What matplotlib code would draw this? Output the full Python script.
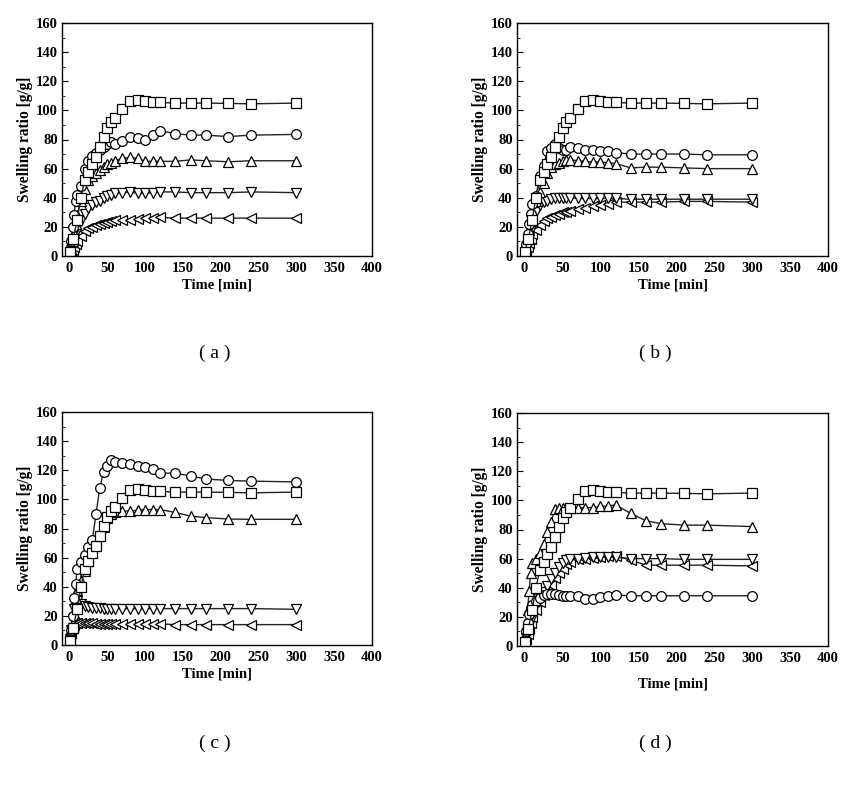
import matplotlib
matplotlib.use("Agg")
import matplotlib.pyplot as plt
from matplotlib.ticker import MultipleLocator

plt.rcParams['font.family'] = ['Liberation Serif', 'DejaVu Serif']

# time points [min]
t = [0, 2, 4, 6, 8, 10, 15, 20, 25, 30, 35, 40, 45, 50, 55, 60,
     70, 80, 90, 100, 110, 120, 140, 160, 180, 210, 240, 300]
t_sq = [0, 5, 10, 15, 20, 25, 30, 35, 40, 45, 50, 55, 60,
        70, 80, 90, 100, 110, 120, 140, 160, 180, 210, 240, 300]

# reference series (squares), same in all panels
square = [3, 12, 25, 40, 52, 58, 63, 68, 75, 82, 88, 92, 95,
          101, 106.5, 107, 106.5, 105.5, 105.5, 105, 105, 105, 104.8, 104.5, 105]

# panel (a)
a_circle = [3, 10, 20, 28, 38, 42, 48, 60, 65, 69, 71, 73, 75, 77, 78, 77,
            79, 82, 81, 80, 83, 86, 84, 83, 83, 82, 83, 83.5]
a_up = [2, 5, 10, 16, 22, 28, 38, 46, 52, 55, 57, 59, 61, 63, 64, 65.5,
        67, 67.7, 67, 65, 65, 65, 65, 66, 65.4, 64.7, 65.4, 65.4]
a_down = [1, 4, 8, 12, 16, 20, 24, 29, 33, 35, 37, 38, 40, 41, 42, 43,
          43.5, 44, 43, 43, 43.5, 44, 44, 43.5, 43.5, 43.5, 44, 43.5]
a_left = [1, 2, 4, 6, 8, 10, 14, 17, 19, 20, 21, 22, 23, 23.5, 24, 24.5,
          25, 25, 25.5, 26, 26, 26.5, 26, 26, 26, 26, 26, 26]

# panel (b)
b_circle = [3, 8, 15, 22, 29, 36, 41, 55, 62, 72, 74, 77, 74, 73, 73, 75,
            74, 73, 72.5, 72, 72, 71, 70, 70, 70, 70, 69.5, 69.5]
b_up = [2, 6, 12, 18, 24, 30, 38, 44, 50, 57, 61, 63, 64, 65, 66, 66,
        65.5, 65, 64.5, 64.5, 64, 63.5, 60.5, 61, 61, 60.5, 60, 60]
b_down = [1, 4, 8, 13, 18, 22, 30, 35, 37, 38, 39, 39.5, 40, 40, 40, 40,
          39.5, 39.5, 39.5, 39.5, 39.5, 39.5, 39, 39, 39, 39, 39, 39]
b_left = [1, 3, 6, 9, 12, 15, 18, 21, 24, 26, 27, 28, 29, 30, 30.5, 31,
          32, 33, 34, 35, 36, 37, 37, 37, 37, 37.5, 37.5, 37]

# panel (c)
c_circle = [4, 10, 20, 32, 42, 52, 57, 62, 67, 72, 90, 108, 119, 123, 127, 126,
            125, 124, 123, 122, 121, 118, 118, 116, 114, 113, 112.5, 112]
c_up = [3, 8, 15, 22, 32, 38, 44, 51, 58, 64, 70, 76, 81, 87, 90, 91,
        92, 92, 92.5, 93, 93, 93, 91, 88.5, 87.5, 86.5, 86.3, 86.3]
c_down = [4, 10, 18, 25, 29, 30, 28, 27, 26, 25.5, 25.5, 25.5, 25, 25, 25, 25,
          25, 25, 25, 25, 25, 25, 25, 25, 25, 25, 25, 24.5]
c_left = [3, 8, 12, 14, 15, 15, 15, 15, 15, 15, 14.5, 14.5, 14.5, 14.5, 14.5, 14.5,
          14.5, 14.5, 14.5, 14.5, 14.5, 14.5, 14, 14, 14, 14, 14, 14]

# panel (d)
d_circle = [4, 10, 16, 22, 26, 28, 31, 33, 35, 35.5, 36, 35.5, 35, 34.5, 34.5, 34,
            34.5, 32, 32.5, 33.5, 34, 35, 34.5, 34.5, 34.5, 34.5, 34.5, 34.5]
d_up = [5, 12, 25, 38, 50, 57, 60, 64, 70, 78, 85, 94, 95, 95, 95, 95,
        95, 95, 95, 96, 96, 97, 91, 86, 84, 83, 83, 82]
d_down = [3, 6, 10, 14, 18, 22, 28, 33, 37, 41, 46, 50, 54, 57, 59, 60,
          60, 60.5, 61, 61, 61, 61, 60, 60, 60, 59.5, 59.5, 59.5]
d_left = [2, 5, 8, 12, 16, 20, 25, 30, 35, 38, 42, 47, 50, 53, 56, 58,
          60, 60, 60.5, 61, 61.5, 62, 59, 55.5, 55.5, 55.5, 55.5, 55]

panels = [
    ("( a )", a_circle, a_up, a_down, a_left),
    ("( b )", b_circle, b_up, b_down, b_left),
    ("( c )", c_circle, c_up, c_down, c_left),
    ("( d )", d_circle, d_up, d_down, d_left),
]

W, H = 849, 787
fig = plt.figure(figsize=(W / 100, H / 100), dpi=100)

# axes boxes in pixels: left, top, right, bottom
boxes = [(62, 23, 372, 256), (517, 23, 828, 256),
         (62, 412, 372, 645), (517, 413, 828, 646)]
label_pos = [(215, 353), (655, 353), (215, 743), (655, 743)]
xlab_pad = [3, 3, 3, 9]

mk = dict(mfc='white', mec='black', mew=0.9, ms=7, lw=1.0, color='#222222')

for (lab, circ, up, down, left), (l, tp, r, b), (lx, ly), xp in zip(panels, boxes, label_pos, xlab_pad):
    ax = fig.add_axes([l / W, 1 - b / H, (r - l) / W, (b - tp) / H])
    ax.plot(t, left, marker='<', **mk)
    ax.plot(t, down, marker='v', **mk)
    ax.plot(t, up, marker='^', **mk)
    ax.plot(t, circ, marker='o', **mk)
    ax.plot(t_sq, square, marker='s', **mk)

    ax.set_xlim(-10, 400)
    ax.set_ylim(0, 160)
    ax.set_xticks(range(0, 401, 50))
    ax.yaxis.set_major_locator(MultipleLocator(20))
    ax.yaxis.set_minor_locator(MultipleLocator(10))
    ax.tick_params(axis='y', which='both', direction='in', labelsize=10.5, pad=3)
    ax.tick_params(axis='y', which='major', length=4)
    ax.tick_params(axis='y', which='minor', length=2)
    ax.tick_params(axis='x', length=0, labelsize=10.5, pad=4)
    for tl in ax.get_xticklabels() + ax.get_yticklabels():
        tl.set_fontweight('bold')
    for sp in ax.spines.values():
        sp.set_linewidth(1.0)
    ax.set_xlabel("Time [min]", fontsize=10.5, fontweight='bold', labelpad=xp)
    ax.set_ylabel("Swelling ratio [g/g]", fontsize=11.2, fontweight='bold', labelpad=2)

    fig.text(lx / W, 1 - ly / H, lab, ha='center', va='center', fontsize=14)

fig.savefig("out.png", dpi=100)
